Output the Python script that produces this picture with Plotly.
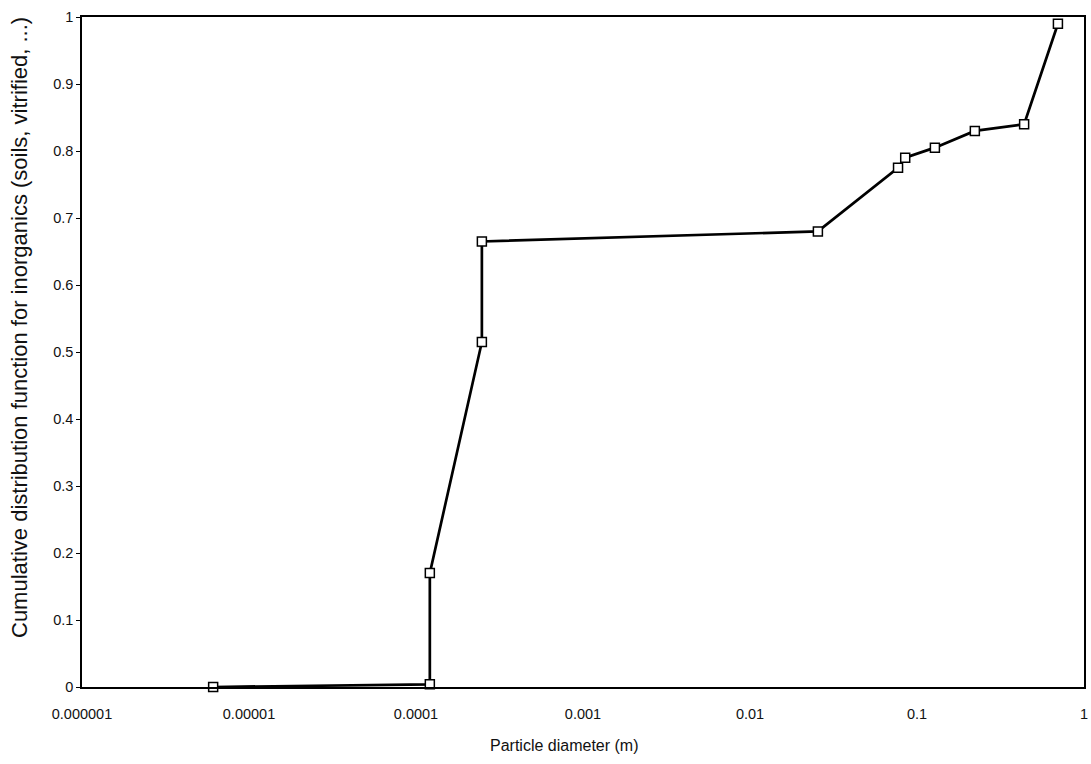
import plotly.graph_objects as go

diameter = [6.1e-6, 1.21e-4, 1.21e-4, 2.48e-4, 2.48e-4, 0.0255, 0.077, 0.085, 0.128, 0.222, 0.438, 0.698]
cdf = [0.0, 0.004, 0.17, 0.515, 0.665, 0.68, 0.775, 0.79, 0.805, 0.83, 0.84, 0.99]

x_tickvals = [1e-6, 1e-5, 1e-4, 1e-3, 1e-2, 1e-1, 1]
x_ticktext = ["0.000001", "0.00001", "0.0001", "0.001", "0.01", "0.1", "1"]
y_tickvals = [0, 0.1, 0.2, 0.3, 0.4, 0.5, 0.6, 0.7, 0.8, 0.9, 1]
y_ticktext = ["0", "0.1", "0.2", "0.3", "0.4", "0.5", "0.6", "0.7", "0.8", "0.9", "1"]

x_title = "Particle diameter (m)"
y_title = "Cumulative distribution function for inorganics (soils, vitrified, ...)"

fig = go.Figure()
fig.add_trace(go.Scatter(
    x=diameter, y=cdf, mode="lines+markers",
    line=dict(color="black", width=2.7),
    marker=dict(symbol="square", size=9, color="white", line=dict(color="black", width=1.5)),
    showlegend=False, cliponaxis=False,
))

font = "Liberation Sans, Arial, sans-serif"
fig.update_layout(
    width=1091, height=764,
    margin=dict(l=82, r=7, t=17, b=77),
    paper_bgcolor="white", plot_bgcolor="white",
    font=dict(family=font, size=14, color="#111"),
    annotations=[
        dict(text=x_title, xref="paper", yref="paper", x=(564 - 82) / 1002, y=-(745 - 687) / 670,
             showarrow=False, xanchor="center", yanchor="middle", font=dict(size=16)),
        dict(text=y_title, xref="paper", yref="paper", x=-(82 - 19) / 1002, y=(687 - 328) / 670,
             showarrow=False, xanchor="center", yanchor="middle", textangle=-90, font=dict(size=22)),
    ],
)
fig.update_xaxes(
    type="log", range=[-6, 0], automargin=False,
    tickvals=x_tickvals, ticktext=x_ticktext,
    showgrid=False, zeroline=False,
    showline=True, linecolor="black", linewidth=1.5, mirror=True,
    ticks="", ticklabelstandoff=13,
    tickfont=dict(size=14.5),
)
fig.update_yaxes(
    range=[0, 1], automargin=False,
    tickvals=y_tickvals, ticktext=y_ticktext,
    showgrid=False, zeroline=False,
    showline=True, linecolor="black", linewidth=1.5, mirror=True,
    ticks="outside", ticklen=4, tickcolor="black",
    tickfont=dict(size=14.5),
)

fig.write_html(
    "out.html",
    config={"displayModeBar": False},
    post_script="document.body.style.margin='0px';document.body.style.overflow='hidden';",
)
